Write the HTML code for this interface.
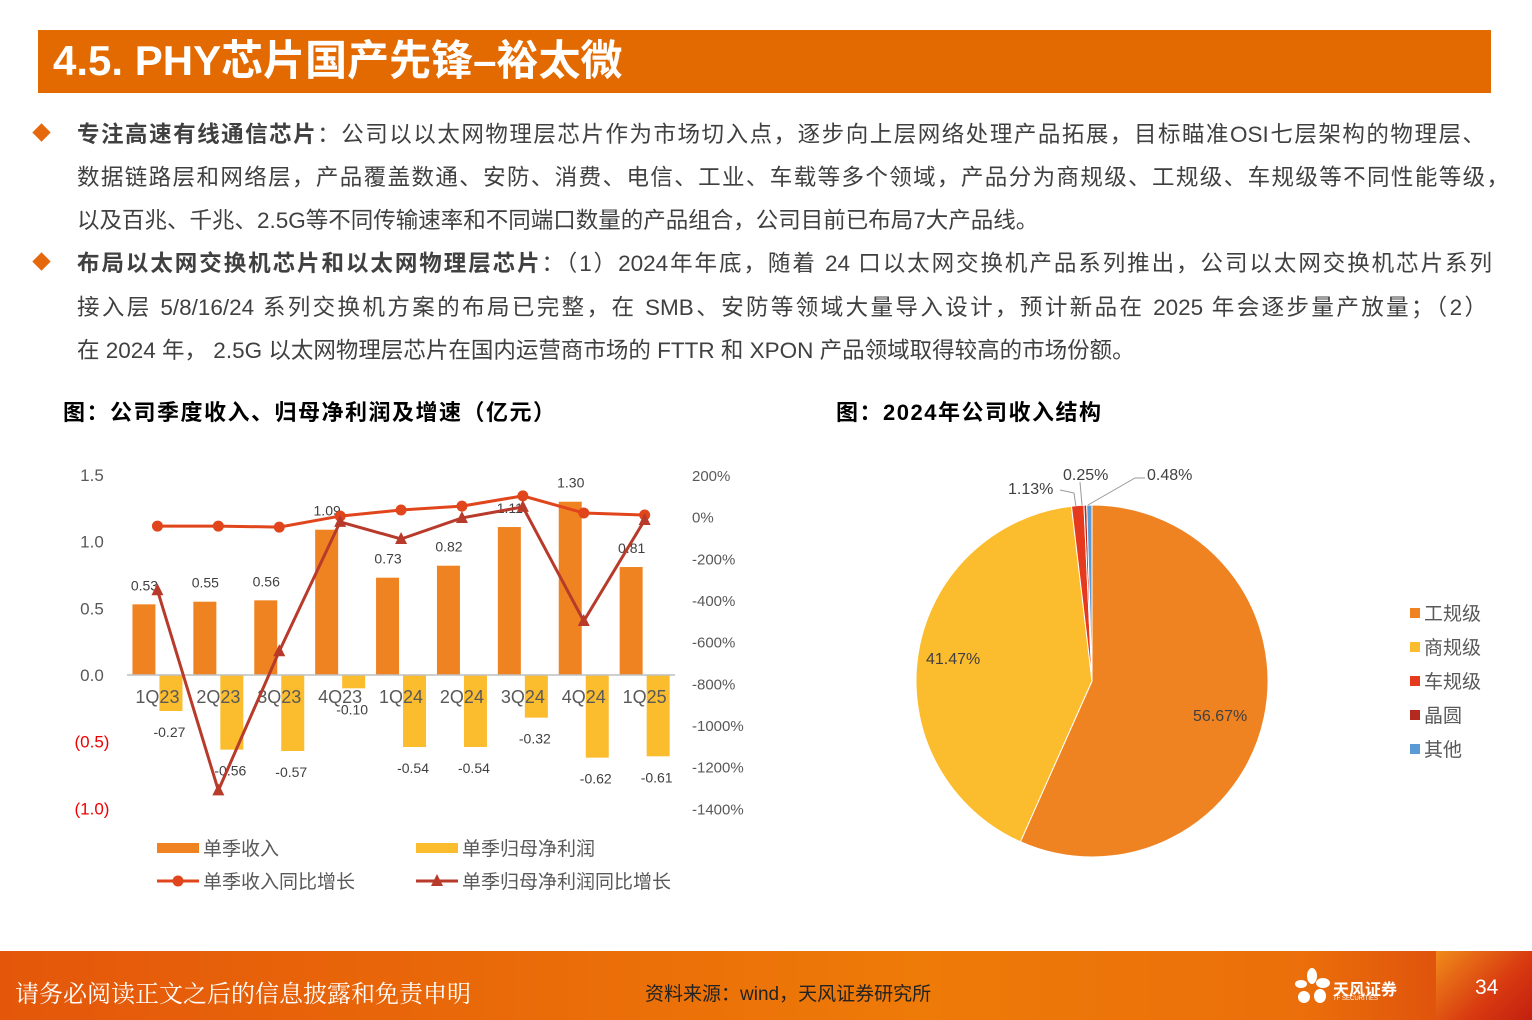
<!DOCTYPE html>
<html><head><meta charset="utf-8">
<style>
body{margin:0;width:1532px;height:1020px;position:relative;background:#fff;overflow:hidden;font-family:"Liberation Sans","Noto Sans CJK SC",sans-serif;color:#404040}
.abs{position:absolute}
.line{position:absolute;left:77px;font-size:22.5px;white-space:nowrap;text-align:justify;text-align-last:justify;color:#404040}
.dia{position:absolute;left:35px;width:13px;height:13px;background:#E5690C;transform:rotate(45deg)}
</style></head><body>
<div class="abs" style="left:38px;top:30px;width:1453px;height:63px;background:#E36A00"></div>
<div class="abs" style="left:53px;top:34px;font-size:42px;font-weight:bold;color:#fff;line-height:54px">4.5. PHY芯片国产先锋–裕太微</div>

<div class="dia" style="top:126px"></div>
<div class="line" style="top:117px;width:1408px"><b style="color:#404040">专注高速有线通信芯片</b>：公司以以太网物理层芯片作为市场切入点，逐步向上层网络处理产品拓展，目标瞄准OSI七层架构的物理层、</div>
<div class="line" style="top:160px;width:1432px">数据链路层和网络层，产品覆盖数通、安防、消费、电信、工业、车载等多个领域，产品分为商规级、工规级、车规级等不同性能等级，</div>
<div class="line" style="top:203px;text-align-last:auto">以及百兆、千兆、2.5G等不同传输速率和不同端口数量的产品组合，公司目前已布局7大产品线。</div>
<div class="dia" style="top:255px"></div>
<div class="line" style="top:246px;width:1415px"><b>布局以太网交换机芯片和以太网物理层芯片</b>：（1）2024年年底，随着 24 口以太网交换机产品系列推出，公司以太网交换机芯片系列</div>
<div class="line" style="top:290px;width:1410px">接入层 5/8/16/24 系列交换机方案的布局已完整，在 SMB、安防等领域大量导入设计，预计新品在 2025 年会逐步量产放量；（2）</div>
<div class="line" style="top:333px;text-align-last:auto">在 2024 年， 2.5G 以太网物理层芯片在国内运营商市场的 FTTR 和 XPON 产品领域取得较高的市场份额。</div>

<div class="abs" style="left:63px;top:395px;font-size:22px;letter-spacing:1.5px;font-weight:bold;color:#000">图：公司季度收入、归母净利润及增速（亿元）</div>
<div class="abs" style="left:836px;top:395px;font-size:22px;letter-spacing:1.5px;font-weight:bold;color:#000">图：2024年公司收入结构</div>

<svg class="abs" style="left:0;top:0" width="1532" height="1020" id="charts"></svg>

<div class="abs" style="left:0;top:951px;width:1532px;height:69px;background:linear-gradient(90deg,#E4570A,#EE7A08 60%,#EB6F0A 85%,#D8400E)"></div>
<div class="abs" style="left:1436px;top:951px;width:96px;height:69px;background:linear-gradient(135deg,#F08B1A,#D83A10 60%,#C22010)"></div>
<div class="abs" style="left:15px;top:974px;font-size:24px;color:#fff;font-family:'Liberation Serif','Noto Serif CJK SC',serif">请务必阅读正文之后的信息披露和免责申明</div>
<div class="abs" style="left:645px;top:979px;font-size:19px;color:#222">资料来源：wind，天风证券研究所</div>
<div class="abs" style="left:1294px;top:968px;width:34px;height:36px">
<svg width="36" height="38"><g fill="#fff"><ellipse cx="18" cy="8" rx="5" ry="8"/><ellipse cx="29" cy="15" rx="7" ry="5"/><ellipse cx="7" cy="16" rx="6" ry="4"/><ellipse cx="10" cy="29" rx="6" ry="6"/><ellipse cx="26" cy="28" rx="6" ry="7"/></g></svg></div>
<div class="abs" style="left:1333px;top:976px;font-size:16px;font-weight:bold;color:#fff">天风证券</div>
<div class="abs" style="left:1333px;top:996px;font-size:6px;color:#fff">TF SECURITIES</div>
<div class="abs" style="left:1475px;top:976px;font-size:21px;color:#fff">34</div>

<script>
const categories=["1Q23","2Q23","3Q23","4Q23","1Q24","2Q24","3Q24","4Q24","1Q25"];
const revenue=[0.53,0.55,0.56,1.09,0.73,0.82,1.11,1.30,0.81];
const netProfit=[-0.27,-0.56,-0.57,-0.10,-0.54,-0.54,-0.32,-0.62,-0.61];
const revenueGrowth=[-45,-45,-50,3,32,51,100,18,8];
const profitGrowth=[-353,-1314,-646,-25,-107,-6,47,-501,-16];
const leftTicks=[1.5,1.0,0.5,0.0,-0.5,-1.0];
const leftTickLabels=["1.5","1.0","0.5","0.0","(0.5)","(1.0)"];
const rightTicks=[200,0,-200,-400,-600,-800,-1000,-1200,-1400];
const pieLabels=["工规级","商规级","车规级","晶圆","其他"];
const pieValues=[56.67,41.47,1.13,0.25,0.48];

const NS="http://www.w3.org/2000/svg";
const svg=document.getElementById('charts');
function mk(t,a,txt){const e=document.createElementNS(NS,t);for(const k in a)e.setAttribute(k,a[k]);if(txt!==undefined)e.textContent=txt;svg.appendChild(e);return e;}
const yL=v=>675-v*133.3;
const yR=v=>516.7-v*0.2083;
const x0=127,bw=60.9;
const xC=i=>x0+bw*(i+0.5);
const F='"Liberation Sans","Noto Sans CJK SC",sans-serif';

leftTicks.forEach((v,i)=>{const t=mk('text',{x:92,y:yL(v)+6,'text-anchor':'middle','font-size':17,fill:v<0?'#E00':'#595959','font-family':F},leftTickLabels[i]);

});
rightTicks.forEach(v=>{const t=mk('text',{x:692,y:yR(v)+6,'font-size':15,fill:'#595959','font-family':F},v+'%');

});

categories.forEach((c,i)=>{
 const r=mk('rect',{x:xC(i)-25,y:yL(revenue[i]),width:23,height:yL(0)-yL(revenue[i]),fill:'#F08321'});
 
 
 const p=mk('rect',{x:xC(i)+2,y:yL(0),width:23,height:yL(netProfit[i])-yL(0),fill:'#FBBC2D'});
 
 
});
const ax=mk('line',{x1:x0,x2:x0+bw*9,y1:yL(0),y2:yL(0),stroke:'#BFBFBF','stroke-width':1.5});


categories.forEach((c,i)=>{const t=mk('text',{x:xC(i),y:703,'text-anchor':'middle','font-size':18,fill:'#595959','font-family':F},c);


const a=mk('text',{x:xC(i)-13,y:yL(revenue[i])-14,'text-anchor':'middle','font-size':14,fill:'#404040','font-family':F},revenue[i].toFixed(2));


const b=mk('text',{x:xC(i)+12,y:yL(netProfit[i])+26,'text-anchor':'middle','font-size':14,fill:'#404040','font-family':F},netProfit[i].toFixed(2));

});

const l1=mk('polyline',{points:revenueGrowth.map((v,i)=>xC(i)+','+yR(v)).join(' '),fill:'none',stroke:'#E0451B','stroke-width':3});


revenueGrowth.forEach((v,i)=>{const c=mk('circle',{cx:xC(i),cy:yR(v),r:5.5,fill:'#E0451B'});

});
const l2=mk('polyline',{points:profitGrowth.map((v,i)=>xC(i)+','+yR(v)).join(' '),fill:'none',stroke:'#B83A2A','stroke-width':3});


profitGrowth.forEach((v,i)=>{const x=xC(i),y=yR(v);const t=mk('polygon',{points:`${x},${y-7} ${x-6},${y+5} ${x+6},${y+5}`,fill:'#B83A2A'});

});

[[157,'单季收入','bar','#F08321'],[416,'单季归母净利润','bar','#FBBC2D'],[157,'单季收入同比增长','circle','#E0451B'],[416,'单季归母净利润同比增长','tri','#B83A2A']].forEach((d,k)=>{
 const y=k<2?848:881;const x=d[0];
 if(d[2]==='bar'){const r=mk('rect',{x:x,y:y-5,width:42,height:10,fill:d[3]});}
 else{const l=mk('line',{x1:x,x2:x+42,y1:y,y2:y,stroke:d[3],'stroke-width':3});
  if(d[2]==='circle')mk('circle',{cx:x+21,cy:y,r:5.5,fill:d[3]});else mk('polygon',{points:`${x+21},${y-7} ${x+15},${y+5} ${x+27},${y+5}`,fill:d[3]});}
 const t=mk('text',{x:x+46,y:y+7,'font-size':19,fill:'#595959','font-family':F},d[1]);
 
 
});

const pieColors=['#F08321','#FBBC2D','#E63A1E','#B52A1E','#5B9BD5'];
const cx=1092,cy=681,R=176;
const tot=pieValues.reduce((a,b)=>a+b,0);
let acc=0;
pieValues.forEach((v,i)=>{
 const a0=acc/tot*2*Math.PI;acc+=v;const a1=acc/tot*2*Math.PI;
 const p=(a)=>[cx+R*Math.sin(a),cy-R*Math.cos(a)];
 const [x1,y1]=p(a0),[x2,y2]=p(a1);
 const s=mk('path',{d:`M${cx},${cy} L${x1},${y1} A${R},${R} 0 ${a1-a0>Math.PI?1:0} 1 ${x2},${y2} Z`,fill:pieColors[i],stroke:'#fff','stroke-width':1});
 
 
});
const pl=[[1193,721],[926,664],[1008,494],[1063,480],[1147,480]];
pieValues.forEach((v,i)=>{const t=mk('text',{x:pl[i][0],y:pl[i][1],'font-size':16,fill:'#404040','font-family':F},v.toFixed(2)+'%');

});
mk('polyline',{points:'1060,490 1074,493 1076,507',fill:'none',stroke:'#999'});
mk('polyline',{points:'1080,482 1082,505',fill:'none',stroke:'#999'});
mk('polyline',{points:'1145,478 1135,478 1088,505',fill:'none',stroke:'#999'});
pieLabels.forEach((l,i)=>{const y=613+i*34;
 const r=mk('rect',{x:1410,y:y-5,width:10,height:10,fill:pieColors[i]});
 
 
 const t=mk('text',{x:1424,y:y+7,'font-size':19,fill:'#595959','font-family':F},l);
 
 });
</script>
</body></html>
